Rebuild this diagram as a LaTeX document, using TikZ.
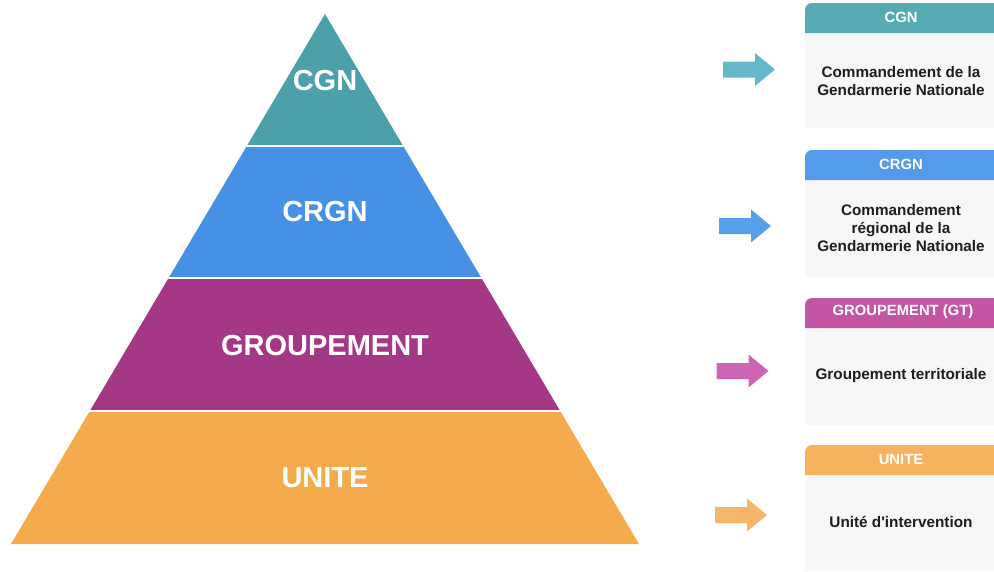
\documentclass[tikz,border=0pt]{standalone}
\usepackage{fontspec}
\setmainfont{Liberation Sans}
\newfontfamily\plainsans{Liberation Sans}
\definecolor{pTeal}{RGB}{75,160,170}
\definecolor{pBlue}{RGB}{70,145,230}
\definecolor{pPurple}{RGB}{165,55,135}
\definecolor{pOrange}{RGB}{245,170,75}
\definecolor{hTeal}{RGB}{85,170,180}
\definecolor{hBlue}{RGB}{85,155,235}
\definecolor{hPink}{RGB}{195,85,165}
\definecolor{hOrange}{RGB}{247,178,95}
\definecolor{aTeal}{RGB}{100,185,200}
\definecolor{aBlue}{RGB}{85,160,235}
\definecolor{aPink}{RGB}{205,100,180}
\definecolor{aOrange}{RGB}{245,182,105}
\definecolor{bodyGray}{RGB}{247,247,247}
\definecolor{txtDark}{RGB}{30,30,30}
\tikzset{
  pyrlabel/.style={text=white, font=\fontsize{29}{32}\selectfont\bfseries, inner sep=0pt},
  headlabel/.style={text=white, font=\fontsize{14.8}{17}\selectfont\bfseries, inner sep=0pt},
  bodylabel/.style={text=txtDark, font=\plainsans\fontsize{15.3}{18}\selectfont\bfseries, align=center, inner sep=0pt},
  blockarrow/.pic={\path[pic actions] (-26,-8) -- (6,-8) -- (6,-16.5) -- (26,0) -- (6,16.5) -- (6,8) -- (-26,8) -- cycle;}
}
\begin{document}
\begin{tikzpicture}[x=1pt,y=-1pt]
\useasboundingbox (0,0) rectangle (994,571);
\fill[white] (0,0) rectangle (994,571);
% pyramid
\begin{scope}
  \clip (325,14) -- (639,544) -- (11,544) -- cycle;
  \fill[pTeal] (0,0) rectangle (660,146);
  \fill[pBlue] (0,146) rectangle (660,278);
  \fill[pPurple] (0,278) rectangle (660,411);
  \fill[pOrange] (0,411) rectangle (660,560);
  \draw[white, line width=2pt] (0,146) -- (660,146) (0,278) -- (660,278) (0,411) -- (660,411);
\end{scope}
\node[pyrlabel] (lcgn) at (325,81) {CGN};
\node[pyrlabel] (lcrgn) at (325,212) {CRGN};
\node[pyrlabel] (lgrp) at (325,346) {GROUPEMENT};
\node[pyrlabel] (lunite) at (325,478) {UNITE};
% arrows
\pic[fill=aTeal] at (749,69.5) {blockarrow};
\pic[fill=aBlue] at (745,226) {blockarrow};
\pic[fill=aPink] at (742.5,371) {blockarrow};
\pic[fill=aOrange] at (741,515) {blockarrow};
% cards
\fill[bodyGray] (805,33) rectangle (994,128);
\fill[hTeal] (805,33) [rounded corners=7pt] -- (805,3) [sharp corners] -- (994,3) -- (994,33) -- cycle;
\node[headlabel] (hcgn) at (901,17) {CGN};
\node[bodylabel] (bcgn) at (901,81) {Commandement de la\\Gendarmerie Nationale};

\fill[bodyGray] (805,180) rectangle (994,277);
\fill[hBlue] (805,180) [rounded corners=7pt] -- (805,150) [sharp corners] -- (994,150) -- (994,180) -- cycle;
\node[headlabel] (hcrgn) at (901,164) {CRGN};
\node[bodylabel] (bcrgn) at (901,228) {Commandement\\régional de la\\Gendarmerie Nationale};

\fill[bodyGray] (805,328) rectangle (994,425);
\fill[hPink] (805,328) [rounded corners=7pt] -- (805,298) [sharp corners] -- (994,298) -- (994,328) -- cycle;
\node[headlabel] (hgrp) at (903,312) {GROUPEMENT (GT)};
\node[bodylabel] (bgrp) at (901,376) {Groupement territoriale};

\fill[bodyGray] (805,475) rectangle (994,571);
\fill[hOrange] (805,475) [rounded corners=7pt] -- (805,445) [sharp corners] -- (994,445) -- (994,475) -- cycle;
\node[headlabel] (hunite) at (901,459) {UNITE};
\node[bodylabel] (bunite) at (901,522) {Unité d'intervention};
\end{tikzpicture}
\end{document}
